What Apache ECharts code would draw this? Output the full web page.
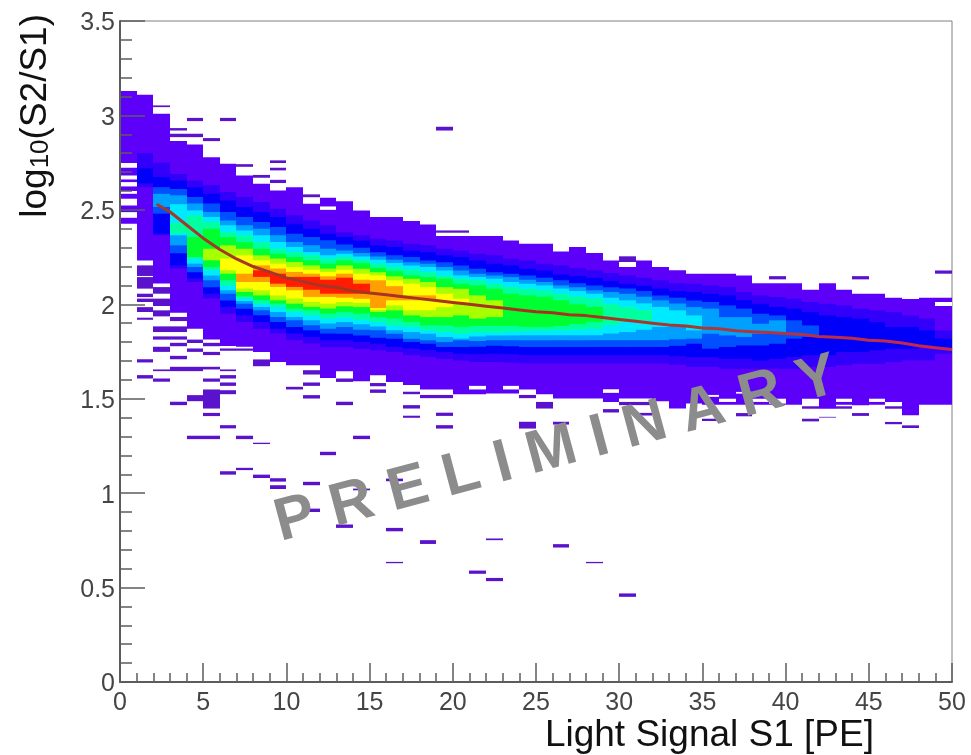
<!DOCTYPE html>
<html>
<head>
<meta charset="utf-8">
<style>html,body{margin:0;padding:0;background:#fff}#c{width:971px;height:755px}</style>
<script src="https://cdn.jsdelivr.net/npm/echarts@6/dist/echarts.min.js"></script>
</head>
<body>
<div id="c"></div>
<script>
// ---- colour of each count level of the 2-D histogram (low -> high) ----
const levelColors = ['#5c00fa','#3200fa','#0000fa','#0050ff','#00a0ff','#00eaff','#00ffa0','#00ff30','#a8ff00','#ffff00','#ffa000','#ff1c00'];
const sparseColor = '#5a12cc';
const emptyColor = '#ffffff';

// One row per 1 PE column. Each row runs upward in log10(S2/S1):
// lower edges of level 0,1,...,n then upper edges of level n,...,1,0.
const columnBands = [
[2.426,3.13],
[2.232,2.62,2.64,2.72,2.80,3.109],
[2.11,2.365,2.374,2.48,2.515,2.585,2.62,2.674,2.75,3.009],
[1.955,2.19,2.206,2.27,2.312,2.365,2.374,2.43,2.53,2.577,2.61,2.656,2.69,2.864],
[1.871,2.118,2.136,2.17,2.197,2.215,2.24,2.25,2.356,2.47,2.497,2.533,2.568,2.62,2.656,2.846],
[1.813,2.03,2.056,2.09,2.127,2.153,2.18,2.197,2.233,2.294,2.4,2.436,2.462,2.488,2.533,2.585,2.63,2.779],
[1.779,1.95,1.985,2.02,2.056,2.074,2.1,2.127,2.162,2.18,2.242,2.312,2.356,2.383,2.418,2.444,2.488,2.55,2.594,2.744],
[1.775,1.906,1.94,1.977,2.003,2.017,2.03,2.042,2.065,2.083,2.118,2.162,2.259,2.294,2.33,2.365,2.391,2.418,2.462,2.515,2.568,2.682],
[1.747,1.871,1.906,1.942,1.968,1.986,2.003,2.021,2.047,2.074,2.118,2.145,2.18,2.206,2.233,2.259,2.294,2.33,2.365,2.4,2.436,2.488,2.541,2.638],
[1.694,1.845,1.871,1.906,1.933,1.959,1.986,2.003,2.021,2.047,2.092,2.109,2.162,2.189,2.215,2.242,2.268,2.294,2.33,2.365,2.409,2.462,2.506,2.603],
[1.677,1.809,1.845,1.88,1.915,1.933,1.959,1.977,2.003,2.03,2.074,2.092,2.145,2.171,2.197,2.224,2.25,2.277,2.303,2.33,2.374,2.427,2.471,2.62],
[1.677,1.792,1.827,1.862,1.889,1.915,1.942,1.968,1.986,2.012,2.039,2.077,2.145,2.162,2.183,2.206,2.233,2.259,2.277,2.312,2.356,2.4,2.444,2.532],
[1.61,1.774,1.809,1.845,1.871,1.898,1.924,1.95,1.977,2.003,2.039,2.056,2.13,2.148,2.171,2.189,2.215,2.242,2.259,2.294,2.339,2.374,2.418,2.564],
[1.645,1.774,1.809,1.844,1.88,1.906,1.932,1.959,1.989,2.012,2.035,2.056,2.141,2.162,2.183,2.206,2.232,2.25,2.268,2.285,2.317,2.356,2.382,2.546],
[1.592,1.765,1.8,1.835,1.865,1.894,1.918,1.95,1.985,2.007,2.029,2.056,2.109,2.13,2.162,2.188,2.218,2.236,2.253,2.271,2.299,2.338,2.365,2.497],
[1.624,1.756,1.791,1.823,1.862,1.883,1.906,1.932,1.959,1.971,1.98,2.127,2.153,2.17,2.193,2.215,2.236,2.253,2.276,2.312,2.347,2.462],
[1.589,1.747,1.774,1.818,1.844,1.862,1.888,1.924,1.968,1.994,2.021,2.096,2.127,2.148,2.176,2.197,2.218,2.236,2.259,2.303,2.338,2.462],
[1.572,1.73,1.765,1.8,1.818,1.853,1.88,1.906,1.941,1.968,2.021,2.047,2.109,2.135,2.153,2.183,2.206,2.223,2.25,2.285,2.321,2.441],
[1.549,1.721,1.756,1.791,1.809,1.844,1.862,1.888,1.932,1.968,2.021,2.047,2.091,2.118,2.144,2.17,2.197,2.215,2.232,2.276,2.312,2.423],
[1.549,1.712,1.747,1.774,1.8,1.827,1.853,1.888,1.932,1.985,2.056,2.091,2.135,2.153,2.179,2.197,2.223,2.259,2.294,2.361],
[1.524,1.703,1.738,1.774,1.809,1.818,1.844,1.88,1.941,2.003,2.029,2.082,2.109,2.135,2.153,2.179,2.206,2.25,2.285,2.361],
[1.524,1.694,1.735,1.775,1.805,1.83,1.85,1.885,1.924,2.047,2.1,2.127,2.144,2.162,2.188,2.232,2.268,2.361],
[1.527,1.694,1.738,1.78,1.81,1.835,1.85,1.885,1.932,2.021,2.082,2.109,2.135,2.153,2.17,2.215,2.259,2.361],
[1.527,1.69,1.735,1.778,1.81,1.835,1.855,1.885,2.056,2.091,2.118,2.144,2.162,2.206,2.241,2.338],
[1.549,1.686,1.73,1.774,1.81,1.836,1.858,1.88,2.047,2.082,2.109,2.13,2.153,2.188,2.232,2.321],
[1.524,1.686,1.73,1.774,1.81,1.836,1.86,1.88,2.04,2.074,2.1,2.118,2.141,2.179,2.215,2.321],
[1.501,1.686,1.73,1.774,1.81,1.836,1.862,1.885,2.021,2.056,2.083,2.1,2.127,2.158,2.206,2.28],
[1.501,1.686,1.73,1.774,1.81,1.836,1.865,1.895,2.0,2.042,2.07,2.09,2.112,2.15,2.192,2.303],
[1.501,1.686,1.73,1.774,1.81,1.836,1.87,1.906,1.986,2.03,2.056,2.074,2.1,2.14,2.18,2.271],
[1.483,1.686,1.73,1.774,1.81,1.845,1.89,2.0,2.035,2.065,2.09,2.125,2.165,2.232],
[1.501,1.686,1.73,1.774,1.81,1.853,1.906,1.986,2.021,2.056,2.083,2.109,2.153,2.197],
[1.501,1.686,1.73,1.774,1.81,1.865,1.915,1.97,2.005,2.04,2.07,2.098,2.14,2.232],
[1.487,1.686,1.73,1.774,1.81,1.88,1.986,2.021,2.047,2.083,2.127,2.197],
[1.448,1.68,1.725,1.78,1.815,1.885,1.968,2.004,2.035,2.07,2.112,2.18],
[1.474,1.668,1.72,1.791,1.818,1.862,1.941,1.985,2.02,2.065,2.109,2.162],
[1.468,1.668,1.72,1.765,1.844,1.977,2.012,2.056,2.1,2.162],
[1.468,1.659,1.712,1.774,1.835,1.932,1.994,2.047,2.091,2.162],
[1.468,1.659,1.712,1.782,1.827,1.932,1.977,2.021,2.065,2.153],
[1.468,1.659,1.703,1.782,1.844,1.897,1.95,2.003,2.047,2.112],
[1.468,1.659,1.712,1.791,1.844,1.915,1.941,1.985,2.038,2.112],
[1.468,1.659,1.721,1.818,1.915,1.977,2.029,2.112],
[1.50,1.668,1.73,1.827,1.888,1.959,2.012,2.077],
[1.447,1.668,1.73,1.941,2.003,2.112],
[1.468,1.677,1.747,1.932,1.994,2.077],
[1.465,1.685,1.747,1.924,1.977,2.056],
[1.468,1.685,1.756,1.906,1.968,2.056],
[1.483,1.694,1.765,1.88,1.959,2.035],
[1.412,1.703,1.765,1.88,1.941,2.028],
[1.468,1.703,1.774,1.862,1.924,2.035],
[1.468,1.738,1.765,1.818,1.862,2.035]
];

// Gaps inside the purple region: [column, low, high]
const emptyCells = [
[0,2.723,2.748],[0,2.661,2.682],[0,2.624,2.647],[0,2.585,2.60],[0,2.523,2.559],[0,2.458,2.488],
[12,2.50,2.518],[21,1.549,1.568],[23,1.549,1.568],[29,1.531,1.55],[35,1.51,1.52],[36,1.483,1.5],
[37,1.527,1.536],[38,1.483,1.5],[39,1.474,1.5],[43,1.483,1.5],[45,1.483,1.5],[49,1.991,2.012]
];

// Isolated low-count cells outside the main band: [column, low, high]
const sparseCells = [
[1,2.15,2.206],[1,2.083,2.144],[1,2.038,2.056],[1,2.012,2.03],[1,1.959,1.985],[1,1.918,1.929],[1,1.692,1.709],[1,1.607,1.625],
[2,3.044,3.053],[2,2.056,2.091],[2,1.991,2.03],[2,1.936,1.968],[2,1.853,1.883],[2,1.813,1.83],[2,1.748,1.775],[2,1.646,1.655],[2,1.59,1.607],
[3,2.92,2.933],[3,2.885,2.903],[3,1.911,1.933],[3,1.853,1.883],[3,1.813,1.83],[3,1.778,1.796],[3,1.709,1.727],[3,1.646,1.669],[3,1.466,1.484],
[4,2.97,2.987],[4,2.885,2.903],[4,1.795,1.813],[4,1.748,1.766],[4,1.646,1.669],[4,1.487,1.519],[4,1.286,1.304],
[5,2.864,2.88],[5,1.778,1.796],[5,1.731,1.748],[5,1.655,1.669],[5,1.59,1.607],[5,1.448,1.549],[5,1.408,1.425],[5,1.286,1.304],
[6,2.97,2.987],[6,1.754,1.766],[6,1.646,1.655],[6,1.607,1.625],[6,1.568,1.586],[6,1.524,1.545],[6,1.343,1.36],[6,1.098,1.116],
[7,2.728,2.742],[7,1.754,1.766],[7,1.286,1.304],[7,1.122,1.134],
[8,2.67,2.685],[8,1.672,1.708],[8,1.26,1.267],[8,1.08,1.098],
[9,2.748,2.762],[9,2.709,2.723],[9,2.642,2.659],[9,1.061,1.079],[9,1.022,1.042],
[10,1.549,1.563],
[11,2.567,2.582],[11,1.628,1.651],[11,1.568,1.586],[11,1.501,1.519],[11,1.042,1.06],[11,0.9,0.918],
[12,1.201,1.219],
[13,1.589,1.607],[13,1.466,1.484],[13,0.816,0.834],
[14,1.286,1.304],[14,1.015,1.024],
[15,1.566,1.583],[15,1.531,1.549],
[16,1.063,1.077],[16,0.798,0.816],[16,0.629,0.636],
[17,1.524,1.537],[17,1.448,1.466],[17,1.399,1.41],
[18,1.503,1.52],[18,0.731,0.751],
[19,2.92,2.94],[19,2.379,2.391],[19,1.503,1.52],[19,1.409,1.426],[19,1.342,1.36],
[20,2.379,2.391],[21,0.573,0.59],[22,0.751,0.76],[22,0.534,0.551],
[24,1.503,1.52],[24,1.342,1.378],[25,1.448,1.483],[26,1.363,1.378],[26,0.712,0.73],
[28,0.629,0.636],[29,1.427,1.445],
[30,2.224,2.254],[30,1.466,1.483],[30,0.451,0.469],
[31,1.466,1.483],[31,1.411,1.425],[35,1.382,1.394],[37,1.407,1.424],[39,2.132,2.149],
[41,1.447,1.46],[41,1.38,1.394],[42,1.40,1.404],[43,1.447,1.46],[44,2.132,2.149],[44,1.409,1.424],
[46,1.447,1.46],[46,1.365,1.377],[47,1.345,1.359],[49,2.162,2.179]
];

// Fitted median curve
const fitX = [2.2,3,4,5,6,7,8,9,10,11,12,13,14,15,16,17,18,19,20,21,22,23,24,25,26,27,28,29,30,31,32,33,34,35,36,37,38,39,40,41,42,43,44,45,46,47,48,49,50];
const fitY = [2.53,2.49,2.42,2.35,2.29,2.24,2.20,2.17,2.14,2.12,2.10,2.09,2.07,2.06,2.05,2.04,2.03,2.02,2.01,2.00,1.99,1.98,1.97,1.96,1.955,1.945,1.94,1.93,1.92,1.91,1.90,1.89,1.885,1.875,1.87,1.86,1.855,1.85,1.845,1.84,1.83,1.825,1.82,1.81,1.805,1.795,1.78,1.77,1.76];

const xAxisTitle = 'Light Signal S1 [PE]';
const watermark = 'P R E L I M I N A R Y';

// ---- build the cell table for the library ----
const SPARSE = -1, EMPTY = -2;
const cells = [];
columnBands.forEach((row, col) => {
  const n = row.length / 2;
  for (let k = 0; k < n; k++) cells.push([col, row[k], row[row.length - 1 - k], k]);
});
emptyCells.forEach(c => cells.push([c[0], c[1], c[2], EMPTY]));
sparseCells.forEach(c => cells.push([c[0], c[1], c[2], SPARSE]));

function colorOf(level) {
  if (level === SPARSE) return sparseColor;
  if (level === EMPTY) return emptyColor;
  return levelColors[level];
}

const axisGray = '#5c5c5c';
const labelStyle = {fontFamily: 'Liberation Sans', fontSize: 25, color: '#454545'};

const chart = echarts.init(document.getElementById('c'), null, {renderer: 'canvas'});
chart.setOption({
  animation: false,
  backgroundColor: '#ffffff',
  grid: {left: 120, right: 19, top: 21, bottom: 73, outerBoundsMode: 'none', show: true, borderColor: '#808080', borderWidth: 1, backgroundColor: 'transparent'},
  xAxis: {
    type: 'value', min: 0, max: 50, interval: 5, z: 5,
    name: xAxisTitle, nameLocation: 'end', nameGap: 0,
    nameTextStyle: {fontFamily: 'Liberation Sans', fontSize: 37, color: '#111', align: 'right', verticalAlign: 'top', padding: [35, 78, 0, 0]},
    axisLine: {show: true, onZero: false, lineStyle: {color: axisGray, width: 2}},
    axisTick: {show: true, inside: true, length: 19, lineStyle: {color: axisGray, width: 1.5}},
    minorTick: {show: true, splitNumber: 5, length: 9, lineStyle: {color: axisGray, width: 1.5}},
    splitLine: {show: false}, minorSplitLine: {show: false},
    axisLabel: Object.assign({margin: 9, showMinLabel: true, showMaxLabel: true}, labelStyle)
  },
  yAxis: {
    type: 'value', min: 0, max: 3.5, interval: 0.5, z: 5,
    name: '{a|log}{b|10}{a|(S2/S1)}', nameLocation: 'end', nameRotate: 90, nameGap: 7,
    nameTextStyle: {align: 'right', verticalAlign: 'bottom', padding: [0, 0, 66, 0], rich: {
      a: {fontFamily: 'Liberation Sans', fontSize: 37, color: '#111', verticalAlign: 'bottom', lineHeight: 40},
      b: {fontFamily: 'Liberation Sans', fontSize: 26, color: '#111', verticalAlign: 'bottom', lineHeight: 32}
    }},
    axisLine: {show: true, onZero: false, lineStyle: {color: axisGray, width: 2}},
    axisTick: {show: true, inside: true, length: 25, lineStyle: {color: axisGray, width: 1.5}},
    minorTick: {show: true, splitNumber: 5, length: 12, lineStyle: {color: axisGray, width: 1.5}},
    splitLine: {show: false}, minorSplitLine: {show: false},
    axisLabel: {
      margin: 5, showMinLabel: true, showMaxLabel: true,
      formatter: v => '{v|' + v + '}',
      rich: {v: Object.assign({verticalAlign: 'bottom', lineHeight: 30}, labelStyle)}
    }
  },
  series: [
    {
      type: 'custom', name: 'counts', coordinateSystem: 'cartesian2d', silent: true, clip: true, z: 2,
      encode: {x: 0, y: [1, 2]},
      data: cells,
      renderItem: function (params, api) {
        const col = api.value(0), lo = api.value(1), hi = api.value(2), level = api.value(3);
        const a = api.coord([col, lo]);
        const b = api.coord([col + 1, hi]);
        const x0 = Math.round(a[0]), x1 = Math.round(b[0]);
        return {type: 'rect', shape: {x: x0, y: b[1], width: x1 - x0, height: a[1] - b[1]},
                style: {fill: colorOf(level)}};
      }
    },
    {
      type: 'line', name: 'fit', data: fitX.map((x, i) => [x, fitY[i]]), showSymbol: false, symbol: 'none', z: 3, silent: true,
      lineStyle: {width: 3, color: new echarts.graphic.LinearGradient(0, 0, 1, 0, [
        {offset: 0, color: '#a23a2c'}, {offset: 0.5, color: '#a8301e'}, {offset: 0.7, color: '#a83a3a'}, {offset: 1, color: '#cc2450'}
      ])}
    }
  ],
  graphic: [{
    type: 'text', x: 284, y: 554, rotation: 15 * Math.PI / 180, z: 100, silent: true,
    style: {text: watermark, font: 'bold 60px "Liberation Sans"', fill: '#8c8c8c', textAlign: 'left', textVerticalAlign: 'bottom'}
  }]
});
</script>
</body>
</html>
